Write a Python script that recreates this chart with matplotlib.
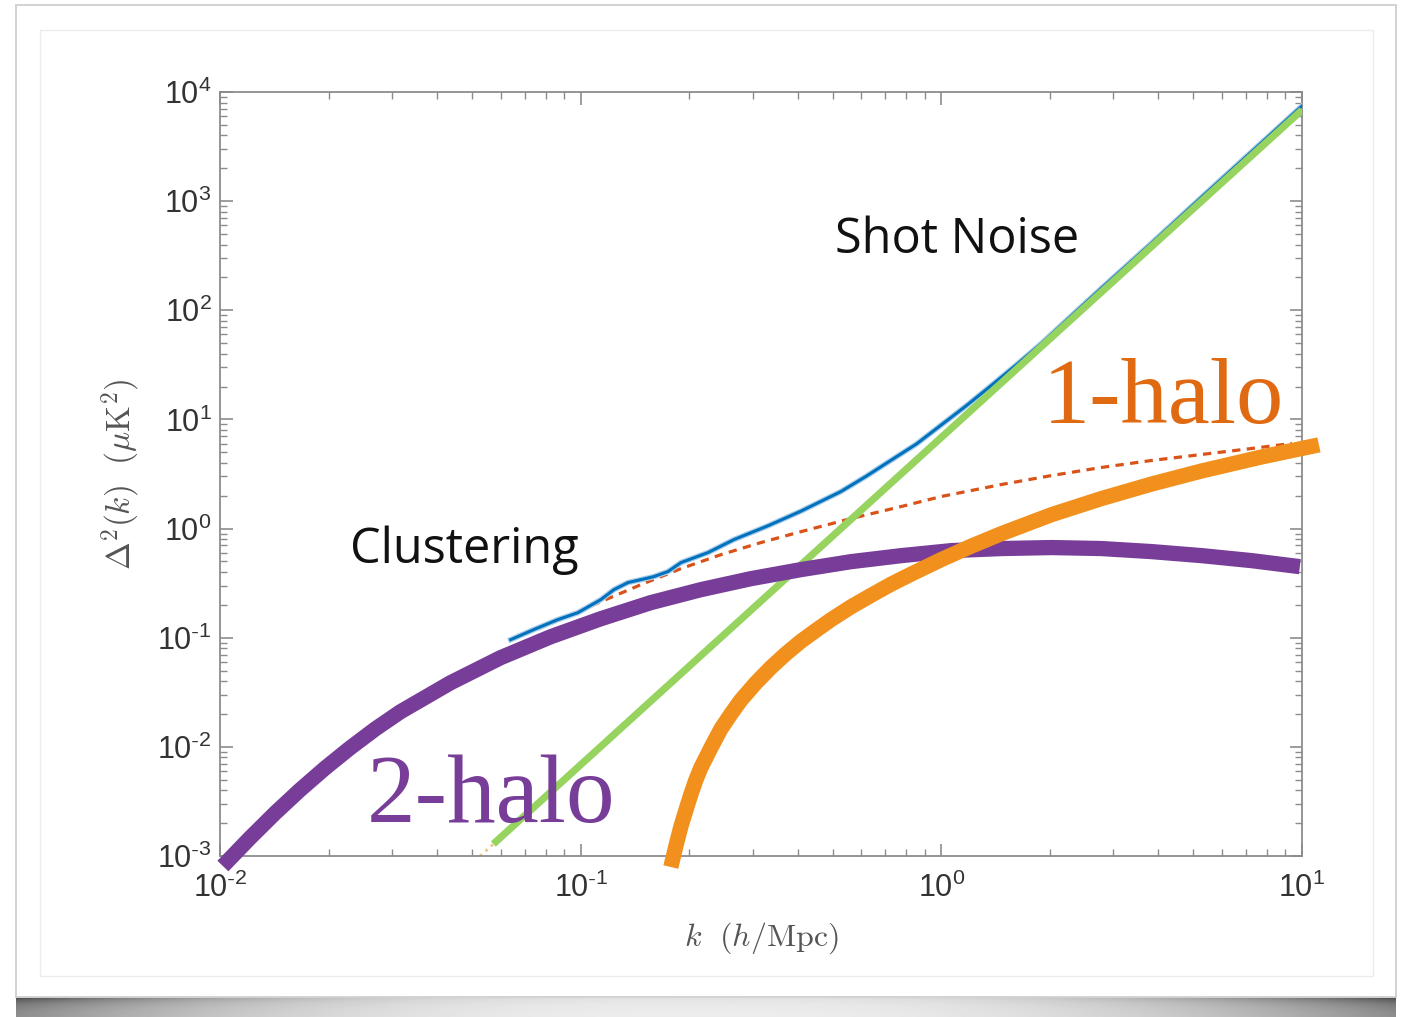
import numpy as np
import matplotlib
matplotlib.use("Agg")
import matplotlib.pyplot as plt
import matplotlib.patheffects as pe
from matplotlib.patches import Rectangle
from matplotlib.ticker import LogLocator, FuncFormatter, NullFormatter

plt.rcParams['mathtext.fontset'] = 'cm'

# ---- data, stored as log10 values ----
# k in h/Mpc, Delta^2 in uK^2

# 2-halo term (thick purple)
logk_2h = [-1.992, -1.917, -1.847, -1.778, -1.708, -1.639, -1.569, -1.500, -1.361, -1.222,
           -1.083, -0.944, -0.806, -0.667, -0.528, -0.389, -0.250, -0.111, 0.028, 0.167,
           0.306, 0.444, 0.583, 0.722, 0.861, 0.994]
logp_2h = [-3.092, -2.835, -2.606, -2.394, -2.193, -2.009, -1.835, -1.679, -1.413, -1.183,
           -0.991, -0.826, -0.679, -0.560, -0.459, -0.376, -0.303, -0.248, -0.202, -0.183,
           -0.174, -0.183, -0.211, -0.248, -0.294, -0.349]

# 1-halo term (thick orange)
logk_1h = [-0.750, -0.736, -0.722, -0.708, -0.694, -0.681, -0.667, -0.639, -0.611, -0.583,
           -0.556, -0.514, -0.472, -0.431, -0.389, -0.347, -0.306, -0.250, -0.194, -0.139,
           -0.083, 0.000, 0.083, 0.167, 0.306, 0.444, 0.583, 0.722, 0.889, 1.047]
logp_1h = [-3.101, -2.908, -2.729, -2.578, -2.431, -2.307, -2.193, -2.009, -1.835, -1.697,
           -1.573, -1.413, -1.271, -1.147, -1.032, -0.931, -0.835, -0.716, -0.610, -0.509,
           -0.416, -0.284, -0.161, -0.046, 0.128, 0.275, 0.408, 0.528, 0.657, 0.767]

# clustering total (dashed)
logk_cl = [-1.194, -1.083, -0.944, -0.833, -0.722, -0.611, -0.500, -0.389, -0.250, -0.111,
           0.000, 0.167, 0.306, 0.444, 0.583, 0.722, 0.861, 0.972]
logp_cl = [-1.020, -0.870, -0.670, -0.514, -0.367, -0.239, -0.128, -0.028, 0.092, 0.202,
           0.294, 0.404, 0.486, 0.560, 0.624, 0.679, 0.734, 0.780]

# total signal (blue)
logk_tot = [-1.194, -1.131, -1.064, -1.008, -0.944, -0.908, -0.869, -0.833, -0.797, -0.758,
            -0.722, -0.647, -0.575, -0.481, -0.389, -0.278, -0.208, -0.139, -0.069, 0.000,
            0.069, 0.139, 0.208, 0.278, 0.361, 0.444, 0.583, 0.722, 1.000]
logp_tot = [-1.018, -0.927, -0.835, -0.771, -0.651, -0.560, -0.495, -0.468, -0.440, -0.394,
            -0.312, -0.220, -0.101, 0.025, 0.160, 0.340, 0.480, 0.627, 0.775, 0.950,
            1.125, 1.312, 1.500, 1.697, 1.950, 2.202, 2.615, 3.037, 3.872]

# shot noise (green), with the dotted yellow line underneath
logk_sn = [-1.242, 1.000]
logp_sn = [-2.890, 3.835]
logk_sn_dot = [-1.400, 1.000]
logp_sn_dot = [-3.364, 3.835]

W, H = 1412, 1017
fig = plt.figure(figsize=(W / 100, H / 100), dpi=100)
fig.patch.set_facecolor('white')

# card frame + inner frame
fig.patches.append(Rectangle((16 / W, 20 / H), 1380 / W, 992 / H, transform=fig.transFigure,
                             facecolor='white', edgecolor='#d2d2d2', lw=1.4, zorder=-10))
fig.patches.append(Rectangle((40 / W, 41 / H), 1333 / W, 946 / H, transform=fig.transFigure,
                             facecolor='none', edgecolor='#ececec', lw=1.0, zorder=-9))

# curled shadow under the card
sh = fig.add_axes([16 / W, 0, 1380 / W, 20 / H], zorder=-11)
xx = np.linspace(-1, 1, 400)
yy = np.linspace(0, 1, 20)[:, None]
dark = (0.12 + 0.6 * np.abs(xx) ** 2.5)[None, :] * (0.6 + 0.4 * np.exp(-yy * 3))
sh.imshow(1 - dark, cmap='gray', vmin=0, vmax=1, aspect='auto', extent=[0, 1, 0, 1])
sh.axis('off')

ax = fig.add_axes([220 / W, (H - 856) / H, 1082 / W, 764 / H])
ax.set_xscale('log')
ax.set_yscale('log')
ax.set_xlim(1e-2, 1e1)
ax.set_ylim(1e-3, 1e4)


def pw(a):
    return 10 ** np.asarray(a)


ax.plot(pw(logk_sn_dot), pw(logp_sn_dot), color='#f2c57c', lw=2, ls=':', zorder=1)
ax.plot(pw(logk_cl), pw(logp_cl), color='#d95319', lw=2.3, ls=(0, (2.6, 2.0)), zorder=2)
ax.plot(pw(logk_tot), pw(logp_tot), color='#0072bd', lw=2.2, zorder=3,
        path_effects=[pe.Stroke(linewidth=4, foreground='#a9cdea'), pe.Normal()])
ax.plot(pw(logk_sn), pw(logp_sn), color='#96d35f', lw=5.2, solid_capstyle='butt', zorder=4)
ax.plot(pw(logk_2h), pw(logp_2h), color='#773d98', lw=11, solid_capstyle='butt',
        solid_joinstyle='round', clip_on=False, zorder=5)
ax.plot(pw(logk_1h), pw(logp_1h), color='#f2901d', lw=11, solid_capstyle='butt',
        solid_joinstyle='round', clip_on=False, zorder=6)

# axes styling (matlab-like box)
for s in ax.spines.values():
    s.set_color('#8c8c8c')
    s.set_linewidth(1.3)
ax.xaxis.set_major_locator(LogLocator(base=10, numticks=10))
ax.yaxis.set_major_locator(LogLocator(base=10, numticks=10))
ax.xaxis.set_minor_locator(LogLocator(base=10, subs=np.arange(2, 10), numticks=20))
ax.yaxis.set_minor_locator(LogLocator(base=10, subs=np.arange(2, 10), numticks=20))


def fmt_dec(v, pos):
    e = int(round(np.log10(v)))
    if e < 0:
        return r'$\mathregular{10^{\text{-}%d}}$' % (-e)
    return r'$\mathregular{10^{%d}}$' % e


ax.xaxis.set_major_formatter(FuncFormatter(fmt_dec))
ax.yaxis.set_major_formatter(FuncFormatter(fmt_dec))
ax.xaxis.set_minor_formatter(NullFormatter())
ax.yaxis.set_minor_formatter(NullFormatter())
ax.tick_params(which='both', direction='in', top=True, right=True, colors='#8c8c8c')
ax.tick_params(which='major', length=9, width=1.2, labelsize=22, labelcolor='#333333')
ax.tick_params(which='minor', length=5, width=1.0)
ax.tick_params(axis='x', which='major', pad=12)
ax.tick_params(axis='y', which='major', pad=6)
for lab in ax.get_xticklabels() + ax.get_yticklabels():
    lab.set_family('Liberation Sans')

ax.set_xlabel(r'$k\ \ (h/{\rm Mpc})$', fontsize=23, color='#555555', labelpad=12)
ax.set_ylabel(r'$\Delta^2(k)\ \ (\mu{\rm K}^2)$', fontsize=24, color='#555555', labelpad=10)

# annotations
ax.text(0.568, 0.806, 'Shot Noise', transform=ax.transAxes, fontsize=35, family='Open Sans',
        color='#111111', ha='left', va='center', zorder=8)
ax.text(0.120, 0.400, 'Clustering', transform=ax.transAxes, fontsize=35, family='Open Sans',
        color='#111111', ha='left', va='center', zorder=8)
ax.text(0.136, 0.045, '2-halo', transform=ax.transAxes, fontsize=70, family='Liberation Serif',
        color='#773d98', ha='left', va='baseline', zorder=8)
ax.text(0.760, 0.567, '1-halo', transform=ax.transAxes, fontsize=68, family='Liberation Serif',
        color='#e06a12', ha='left', va='baseline', zorder=8)

fig.savefig('out.png', dpi=100)
